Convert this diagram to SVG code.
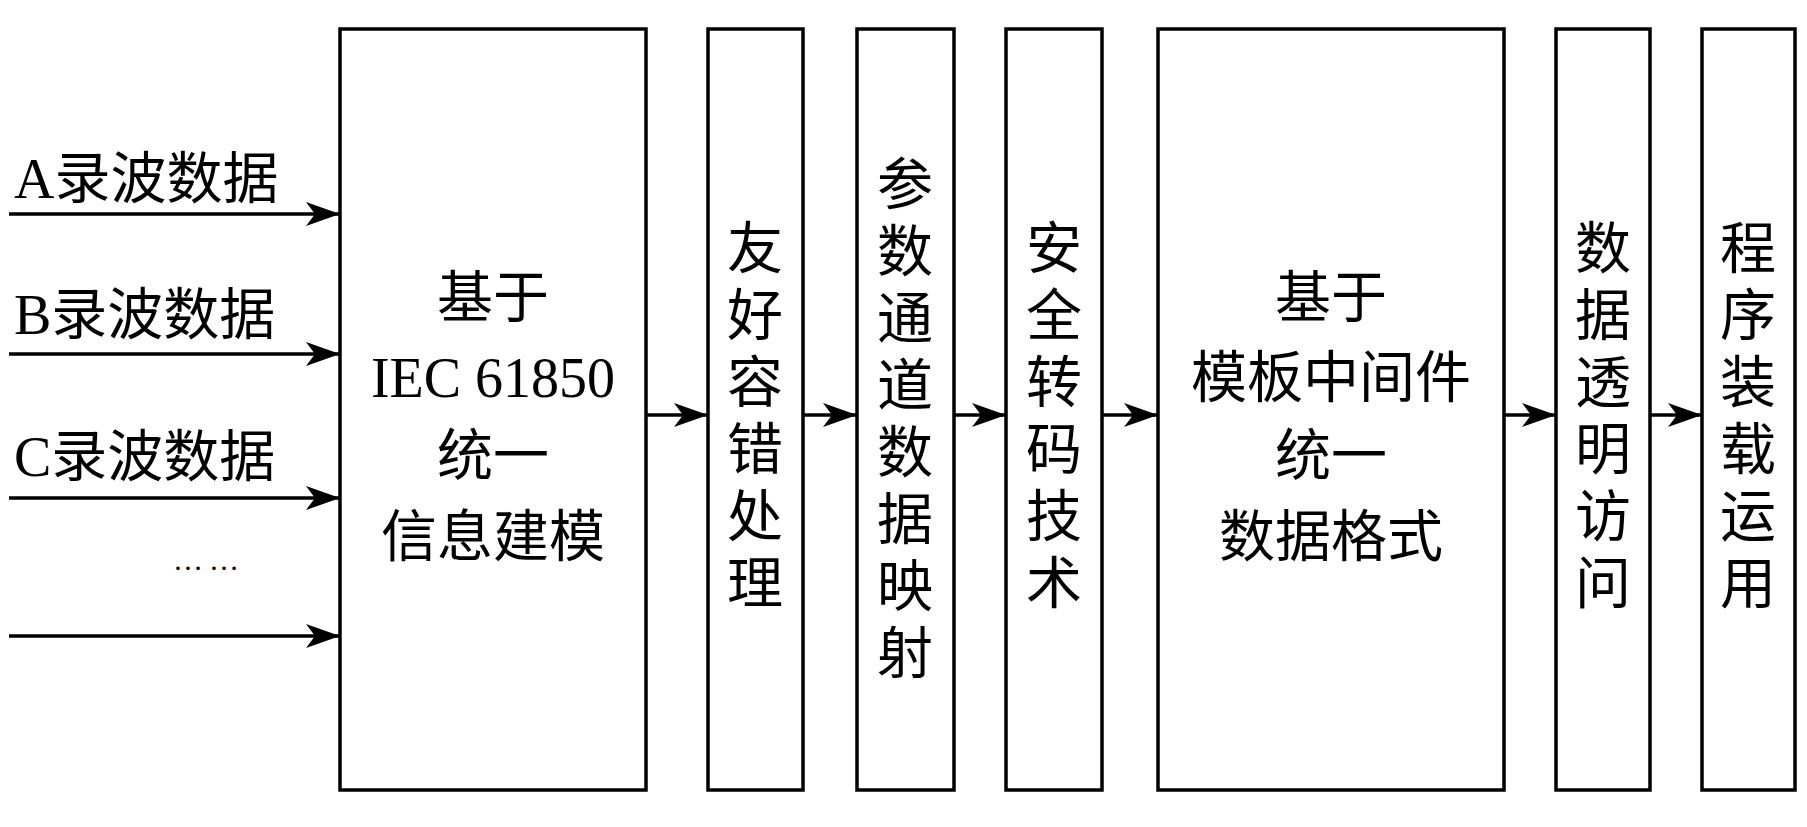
<svg xmlns="http://www.w3.org/2000/svg" width="1807" height="827" viewBox="0 0 1807 827">
<style>
.b{fill:#fff;stroke:#000;stroke-width:3.5}
.l{stroke:#000;stroke-width:3.5;fill:none;marker-end:url(#ah)}
text{font-family:"Liberation Serif","Noto Sans CJK SC",serif;font-size:56px;fill:#000}
.c{text-anchor:middle}
</style>
<defs><marker id="ah" markerUnits="userSpaceOnUse" markerWidth="34" markerHeight="24" refX="34" refY="12" orient="auto"><path d="M0,0 L34,12 L0,24 L9,12 Z" fill="#000"/></marker></defs>
<rect width="1807" height="827" fill="#fff"/>
<g id="connectors">
<path class="l" d="M9,214H340"/><path class="l" d="M9,354H340"/><path class="l" d="M9,498H340"/><path class="l" d="M9,636H340"/>
<path class="l" d="M646,415H708"/><path class="l" d="M803,415H857"/><path class="l" d="M954,415H1006"/><path class="l" d="M1102,415H1158"/><path class="l" d="M1504,415H1556"/><path class="l" d="M1650,415H1702"/>
</g>
<g id="inputs">
<text x="14" y="198">A录波数据</text>
<text x="14" y="334">B录波数据</text>
<text x="14" y="476">C录波数据</text>
<text x="173" y="570" style="font-size:30px;letter-spacing:6px">……</text>
</g>
<g id="n1"><rect class="b" x="340" y="29" width="306" height="761"/>
<text class="c" x="493" y="317">基于</text><text class="c" x="493" y="397">IEC 61850</text><text class="c" x="493" y="475">统一</text><text class="c" x="493" y="556">信息建模</text></g>
<g id="n2"><rect class="b" x="708" y="29" width="95" height="761"/>
<text class="c" x="755" y="268">友</text><text class="c" x="755" y="335">好</text><text class="c" x="755" y="402">容</text><text class="c" x="755" y="469">错</text><text class="c" x="755" y="536">处</text><text class="c" x="755" y="603">理</text></g>
<g id="n3"><rect class="b" x="857" y="29" width="97" height="761"/>
<text class="c" x="905" y="204">参</text><text class="c" x="905" y="271">数</text><text class="c" x="905" y="338">通</text><text class="c" x="905" y="405">道</text><text class="c" x="905" y="472">数</text><text class="c" x="905" y="539">据</text><text class="c" x="905" y="606">映</text><text class="c" x="905" y="673">射</text></g>
<g id="n4"><rect class="b" x="1006" y="29" width="96" height="761"/>
<text class="c" x="1054" y="268">安</text><text class="c" x="1054" y="335">全</text><text class="c" x="1054" y="402">转</text><text class="c" x="1054" y="469">码</text><text class="c" x="1054" y="536">技</text><text class="c" x="1054" y="603">术</text></g>
<g id="n5"><rect class="b" x="1158" y="29" width="346" height="761"/>
<text class="c" x="1331" y="317">基于</text><text class="c" x="1331" y="397">模板中间件</text><text class="c" x="1331" y="475">统一</text><text class="c" x="1331" y="556">数据格式</text></g>
<g id="n6"><rect class="b" x="1556" y="29" width="94" height="761"/>
<text class="c" x="1603" y="268">数</text><text class="c" x="1603" y="335">据</text><text class="c" x="1603" y="402">透</text><text class="c" x="1603" y="469">明</text><text class="c" x="1603" y="536">访</text><text class="c" x="1603" y="603">问</text></g>
<g id="n7"><rect class="b" x="1702" y="29" width="93" height="761"/>
<text class="c" x="1748" y="268">程</text><text class="c" x="1748" y="335">序</text><text class="c" x="1748" y="402">装</text><text class="c" x="1748" y="469">载</text><text class="c" x="1748" y="536">运</text><text class="c" x="1748" y="603">用</text></g>
</svg>
